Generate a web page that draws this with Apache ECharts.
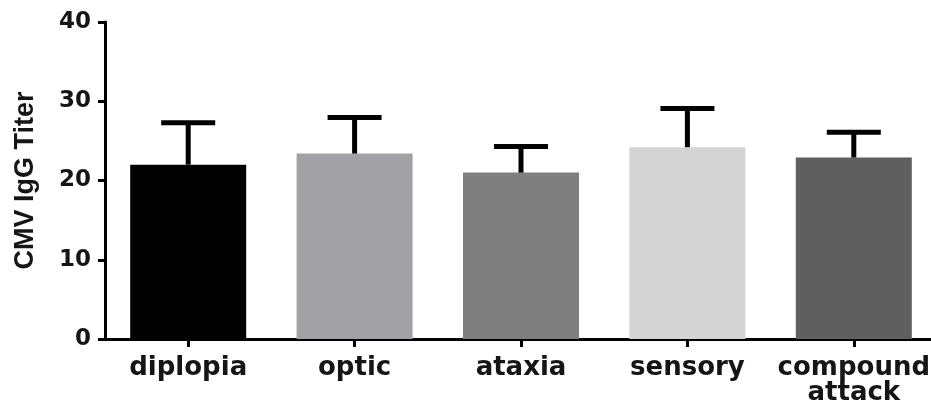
<!DOCTYPE html>
<html>
<head>
<meta charset="utf-8">
<script src="https://cdn.jsdelivr.net/npm/echarts@6/dist/echarts.min.js"></script>
<style>
html,body{margin:0;padding:0;background:#fff;}
#chart{width:931px;height:402px;}
</style>
</head>
<body>
<div id="chart"></div>
<script>
var categories = ['diplopia', 'optic', 'ataxia', 'sensory', 'compound\nattack'];
var meanValues = [22.0, 23.4, 21.0, 24.2, 22.9];
var upperValues = [27.3, 27.95, 24.3, 29.1, 26.1];
var barColors = ['#000000', '#a2a2a6', '#7f7f7f', '#d4d4d4', '#5f5f5f'];
var yTicks = [0, 10, 20, 30, 40];
var yTitle = 'CMV IgG Titer';

var chart = echarts.init(document.getElementById('chart'), null, {renderer: 'canvas'});

var barData = meanValues.map(function (v, i) {
  return {value: v, itemStyle: {color: barColors[i]}};
});
var errData = meanValues.map(function (v, i) {
  return [i, v, upperValues[i]];
});

chart.setOption({
  animation: false,
  backgroundColor: '#ffffff',
  grid: {left: 105, width: 832, top: 22, height: 317, containLabel: false, outerBoundsMode: 'none'},
  xAxis: {
    type: 'category',
    data: categories,
    boundaryGap: true,
    axisLine: {lineStyle: {color: '#000', width: 3}},
    axisTick: {show: true, alignWithLabel: true, length: 8, lineStyle: {color: '#000', width: 3}},
    axisLabel: {
      color: '#151515', fontFamily: 'DejaVu Sans', fontWeight: 'bold', fontSize: 26,
      margin: 17, lineHeight: 25, interval: 0
    }
  },
  yAxis: {
    type: 'value',
    min: yTicks[0],
    max: yTicks[yTicks.length - 1],
    interval: 10,
    name: yTitle,
    nameLocation: 'middle',
    nameRotate: 90,
    nameGap: 66,
    nameTextStyle: {color: '#151515', fontFamily: 'Liberation Sans', fontWeight: 'bold', fontSize: 27},
    splitLine: {show: false},
    axisLine: {show: true, lineStyle: {color: '#000', width: 3}},
    axisTick: {show: true, length: 7, lineStyle: {color: '#000', width: 3}},
    axisLabel: {color: '#151515', fontFamily: 'DejaVu Sans', fontWeight: 'bold', fontSize: 23, margin: 14}
  },
  series: [
    {
      type: 'bar',
      data: barData,
      barWidth: 116,
      z: 2
    },
    {
      type: 'custom',
      data: errData,
      z: 3,
      renderItem: function (params, api) {
        var x = api.value(0);
        var base = api.coord([x, api.value(1)]);
        var top = api.coord([x, api.value(2)]);
        var half = 27;
        return {
          type: 'group',
          children: [
            {type: 'line', shape: {x1: base[0], y1: base[1], x2: top[0], y2: top[1]},
             style: {stroke: '#000', lineWidth: 5}},
            {type: 'line', shape: {x1: top[0] - half, y1: top[1], x2: top[0] + half, y2: top[1]},
             style: {stroke: '#000', lineWidth: 5}}
          ]
        };
      }
    }
  ]
});
</script>
</body>
</html>
